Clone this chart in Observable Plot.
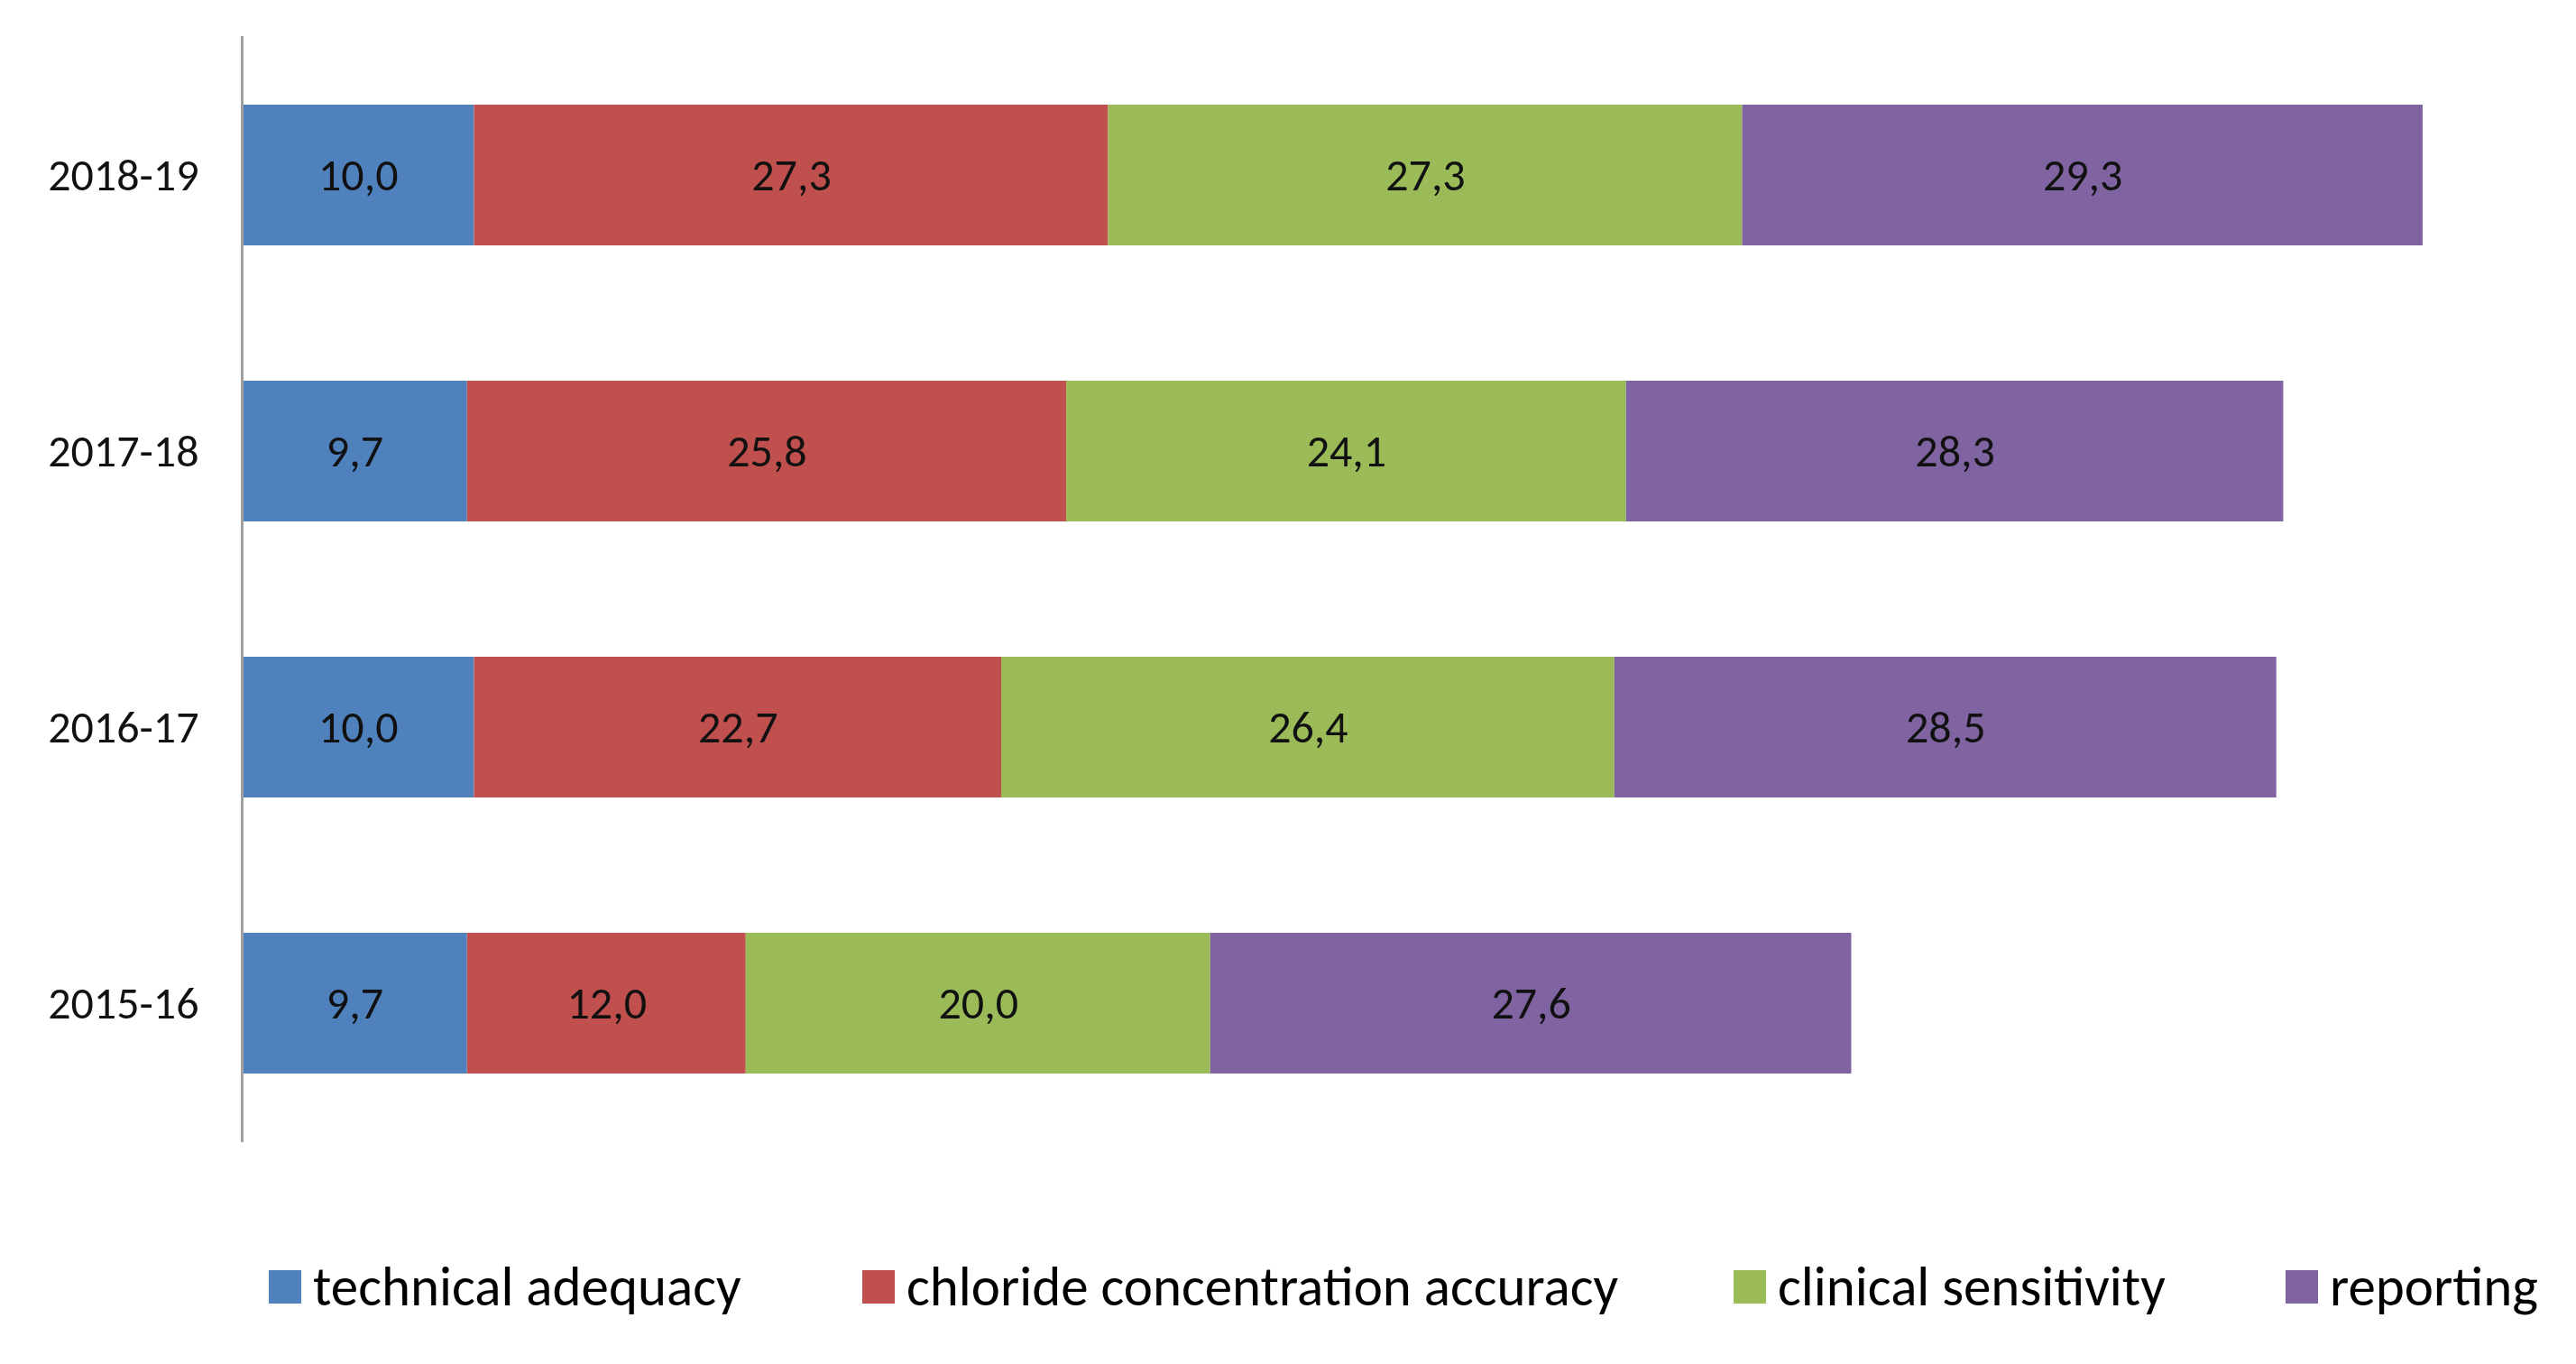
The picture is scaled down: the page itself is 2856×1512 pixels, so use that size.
<!DOCTYPE html>
<html>
<head>
<meta charset="utf-8">
<script src="https://cdn.jsdelivr.net/npm/d3@7"></script>
<script src="https://cdn.jsdelivr.net/npm/@observablehq/plot@0.6"></script>
<style>
  html, body { margin: 0; padding: 0; background: #fff; }
  #wrap { width: 2856px; }
  #legend { position: relative; width: 2856px; height: 172px; font-family: Carlito, Lato, sans-serif; }
  .item { position: absolute; top: 0; height: 172px; display: flex; align-items: center; font-size: 61px; color: #000; white-space: nowrap; }
  .sw { width: 36px; height: 37px; margin-right: 13px; }
</style>
</head>
<body>
<div id="wrap"></div>
<script>
const years = ["2015-16", "2016-17", "2017-18", "2018-19"];
const seriesNames = ["technical adequacy", "chloride concentration accuracy", "clinical sensitivity", "reporting"];
const technicalAdequacy = [9.7, 10.0, 9.7, 10.0];
const chlorideAccuracy = [12.0, 22.7, 25.8, 27.3];
const clinicalSensitivity = [20.0, 26.4, 24.1, 27.3];
const reporting = [27.6, 28.5, 28.3, 29.3];
const colors = ["#4F81BD", "#C0504D", "#9BBB59", "#8064A2"];

const seriesValues = [technicalAdequacy, chlorideAccuracy, clinicalSensitivity, reporting];
const data = [];
years.forEach((year, i) => {
  seriesNames.forEach((s, j) => data.push({year, series: s, value: seriesValues[j][i]}));
});
const fmt = v => v.toFixed(1).replace(".", ",");

const W = 2856, H = 1340;
const chart = Plot.plot({
  width: W,
  height: H,
  marginLeft: 268,
  marginRight: 0,
  marginTop: 40,
  marginBottom: 74,
  style: {fontFamily: "Carlito, Lato, sans-serif", fontSize: "50px", color: "#000", background: "#fff"},
  x: {domain: [0, 100], range: [268, 2843], axis: null},
  y: {domain: years.slice().reverse(), paddingInner: 0.489, paddingOuter: 0.2445, label: null},
  color: {domain: seriesNames, range: colors},
  marks: [
    Plot.barX(data, Plot.stackX({x: "value", y: "year", fill: "series", order: seriesNames})),
    Plot.text(data, Plot.stackX({x: "value", y: "year", z: "series", order: seriesNames, text: d => fmt(d.value), fill: "#111", fontSize: 50})),
    Plot.axisY({tickSize: 0, tickPadding: 48, fontSize: 50, fill: "#111", label: null}),
    Plot.ruleX([0], {stroke: "#a0a0a0", strokeWidth: 3})
  ]
});
document.getElementById("wrap").appendChild(chart);

const legend = document.createElement("div");
legend.id = "legend";
const lefts = [298, 956, 1922, 2534];
seriesNames.forEach((s, i) => {
  const it = document.createElement("div");
  it.className = "item";
  it.style.left = lefts[i] + "px";
  const sw = document.createElement("div");
  sw.className = "sw";
  sw.style.background = colors[i];
  const tx = document.createElement("span");
  tx.textContent = s;
  it.appendChild(sw);
  it.appendChild(tx);
  legend.appendChild(it);
});
document.getElementById("wrap").appendChild(legend);
</script>
</body>
</html>
